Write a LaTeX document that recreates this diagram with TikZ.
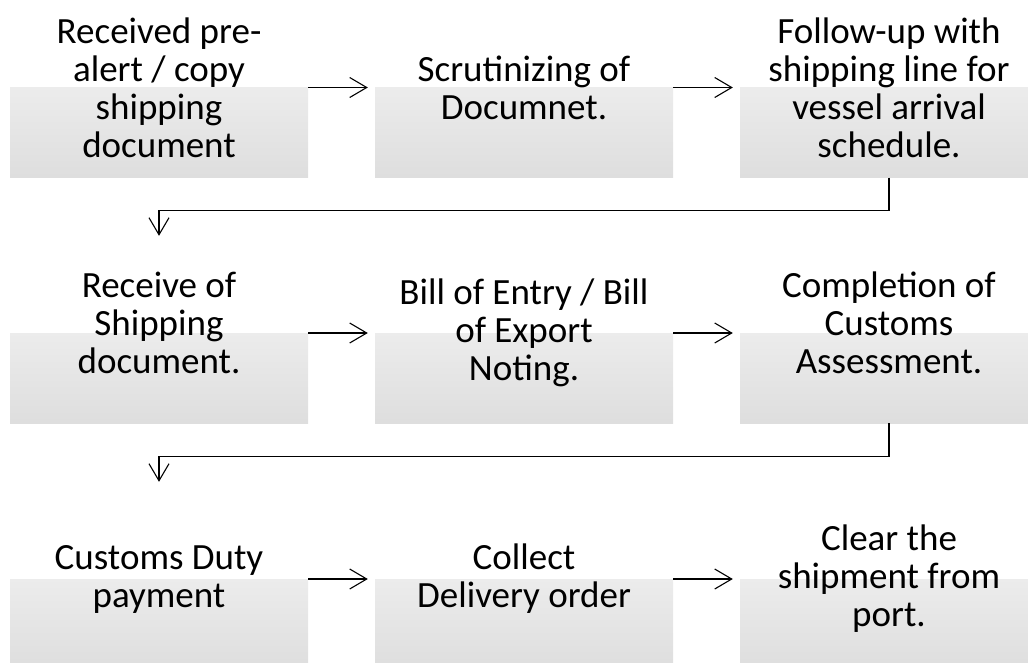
\documentclass[tikz,border=0pt]{standalone}
\usepackage{fontspec}
\setmainfont{Carlito}
\usetikzlibrary{arrows.meta}

\tikzset{
  procbox/.style={minimum width=298pt, minimum height=180pt, inner sep=0pt,
    align=center, font=\fontsize{37}{38}\selectfont, text=black,
    path picture={\shade[top color=white!98!black, bottom color=white!87!black]
      (path picture bounding box.west) rectangle (path picture bounding box.south east);}},
  lift/.style={text depth=20pt},
  flow/.style={-{Straight Barb[length=17pt,width=20pt]}, line width=1.1pt, shorten >=7pt},
}

\begin{document}
\begin{tikzpicture}[x=1pt,y=-1pt]
    \useasboundingbox (0,0) rectangle (1028,662);
    \clip (0,0) rectangle (1028,662);

    %% top row
    \node (recv) at (159,87.5) [procbox] {Received pre-\\alert / copy\\shipping\\document};
    \node (scrut) at (524,87.5) [procbox] {Scrutinizing of\\Documnet.};
    \node (follow) at (889,87.5) [procbox] {Follow-up with\\shipping line for\\vessel arrival\\schedule.};

    %% middle row
    \node (recvdoc) at (159,333) [procbox,lift] {Receive of\\Shipping\\document.};
    \node (billent) at (524,333) [procbox] {Bill of Entry / Bill\\of Export\\Noting.};
    \node (assess) at (889,333) [procbox,lift] {Completion of\\Customs\\Assessment.};

    %% bottom row
    \node (duty) at (159,579) [procbox] {Customs Duty\\payment};
    \node (delord) at (524,579) [procbox] {Collect\\Delivery order};
    \node (clear) at (889,579) [procbox] {Clear the\\shipment from\\port.};

    %% arrows
    \draw[flow] (recv) -- (scrut);
    \draw[flow] (scrut) -- (follow);
    \draw[flow] (follow.south) -- ++(0,33) -| (recvdoc.north);
    \draw[flow] (recvdoc) -- (billent);
    \draw[flow] (billent) -- (assess);
    \draw[flow] (assess.south) -- ++(0,33) -| (duty.north);
    \draw[flow] (duty) -- (delord);
    \draw[flow] (delord) -- (clear);
  \end{tikzpicture}
\end{document}
